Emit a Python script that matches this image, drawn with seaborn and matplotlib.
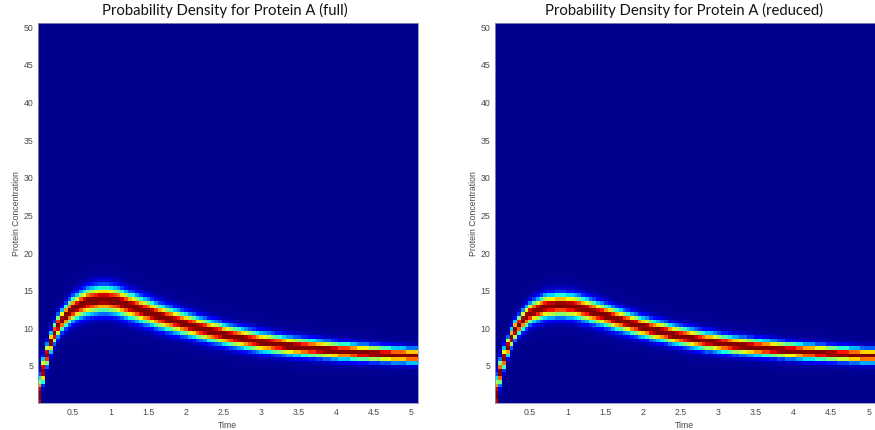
import numpy as np
import pandas as pd
import matplotlib
matplotlib.use("Agg")
import matplotlib.pyplot as plt
import seaborn as sns

titles = ["Probability Density for Protein A (full)", "Probability Density for Protein A (reduced)"]
x_label = "Time"
y_label = "Protein Concentration"
x_ticks = [0.5, 1, 1.5, 2, 2.5, 3, 3.5, 4, 4.5, 5]
x_tick_labels = ["0.5", "1", "1.5", "2", "2.5", "3", "3.5", "4", "4.5", "5"]
y_ticks = [5, 10, 15, 20, 25, 30, 35, 40, 45, 50]

# Ridge centre of the density, one reading per time column (0.05 to 5.05)
ridge_full = [1.0, 4.2, 6.3, 8.0, 9.2, 10.2, 10.9, 11.5, 12.0, 12.4,
              12.7, 13.0, 13.2, 13.4, 13.5, 13.6, 13.7, 13.7, 13.7, 13.6,
              13.5, 13.4, 13.2, 13.0, 12.8, 12.7, 12.5, 12.3, 12.1, 12.0,
              11.8, 11.6, 11.4, 11.3, 11.1, 11.0, 10.8, 10.7, 10.5, 10.4,
              10.2, 10.1, 9.9, 9.8, 9.7, 9.5, 9.4, 9.3, 9.2, 9.0,
              8.9, 8.8, 8.7, 8.6, 8.5, 8.4, 8.3, 8.2, 8.1, 8.0,
              7.95, 7.9, 7.8, 7.7, 7.7, 7.6, 7.5, 7.5, 7.4, 7.4,
              7.3, 7.3, 7.2, 7.2, 7.1, 7.1, 7.0, 7.0, 6.9, 6.9,
              6.8, 6.8, 6.8, 6.7, 6.7, 6.6, 6.6, 6.6, 6.5, 6.5,
              6.5, 6.4, 6.4, 6.4, 6.3, 6.3, 6.3, 6.3, 6.2, 6.2, 6.2]
ridge_reduced = [1.0, 4.0, 5.9, 7.4, 8.6, 9.6, 10.3, 10.9, 11.4, 11.8,
                 12.1, 12.3, 12.5, 12.7, 12.8, 12.8, 12.9, 12.9, 12.9, 12.8,
                 12.8, 12.7, 12.6, 12.4, 12.3, 12.1, 12.0, 11.8, 11.7, 11.5,
                 11.4, 11.2, 11.0, 10.9, 10.7, 10.6, 10.4, 10.3, 10.1, 10.0,
                 9.9, 9.7, 9.6, 9.5, 9.4, 9.3, 9.1, 9.0, 8.9, 8.8,
                 8.7, 8.6, 8.5, 8.4, 8.3, 8.2, 8.1, 8.1, 8.0, 7.9,
                 7.8, 7.8, 7.7, 7.6, 7.6, 7.5, 7.5, 7.4, 7.4, 7.3,
                 7.3, 7.2, 7.2, 7.1, 7.1, 7.0, 7.0, 6.9, 6.9, 6.9,
                 6.8, 6.8, 6.7, 6.7, 6.7, 6.6, 6.6, 6.6, 6.5, 6.5,
                 6.5, 6.4, 6.4, 6.4, 6.3, 6.3, 6.3, 6.2, 6.2, 6.2, 6.2]
# Band half-width of the density, one reading per time column
spread_full = [1.5, 1.0, 0.85, 0.8, 0.8, 0.85, 0.85, 0.9, 0.95, 1.0,
               1.0, 1.05, 1.05, 1.1, 1.1, 1.1, 1.1, 1.1, 1.1, 1.1,
               1.1, 1.1, 1.08, 1.08, 1.06, 1.06, 1.05, 1.04, 1.03, 1.02,
               1.0, 1.0, 0.98, 0.97, 0.96, 0.95, 0.94, 0.93, 0.92, 0.9,
               0.9, 0.89, 0.88, 0.87, 0.86, 0.86, 0.85, 0.85, 0.84, 0.83,
               0.82, 0.82, 0.81, 0.81, 0.8, 0.8, 0.79, 0.79, 0.78, 0.78,
               0.78, 0.77, 0.77, 0.76, 0.76, 0.75, 0.75, 0.74, 0.74, 0.73,
               0.73, 0.72, 0.72, 0.71, 0.71, 0.7, 0.7, 0.69, 0.69, 0.68,
               0.68, 0.68, 0.67, 0.67, 0.66, 0.66, 0.65, 0.65, 0.64, 0.64,
               0.63, 0.63, 0.62, 0.62, 0.62, 0.61, 0.61, 0.6, 0.6, 0.6, 0.6]
spread_reduced = [1.5, 1.0, 0.85, 0.75, 0.75, 0.75, 0.75, 0.8, 0.85, 0.85,
                  0.88, 0.9, 0.92, 0.95, 0.95, 0.95, 0.95, 0.95, 0.95, 0.95,
                  0.95, 0.95, 0.95, 0.95, 0.94, 0.94, 0.93, 0.92, 0.91, 0.9,
                  0.89, 0.88, 0.87, 0.86, 0.85, 0.84, 0.83, 0.82, 0.81, 0.8,
                  0.8, 0.8, 0.79, 0.79, 0.78, 0.78, 0.77, 0.77, 0.76, 0.76,
                  0.76, 0.75, 0.75, 0.75, 0.74, 0.74, 0.74, 0.73, 0.73, 0.73,
                  0.72, 0.72, 0.71, 0.71, 0.7, 0.7, 0.7, 0.69, 0.69, 0.68,
                  0.68, 0.68, 0.67, 0.67, 0.66, 0.66, 0.65, 0.65, 0.65, 0.64,
                  0.64, 0.64, 0.63, 0.63, 0.63, 0.62, 0.62, 0.62, 0.61, 0.61,
                  0.61, 0.6, 0.6, 0.6, 0.6, 0.59, 0.59, 0.59, 0.58, 0.58, 0.58]

row_values = np.arange(101) * 0.5 + 0.25
col_values = np.arange(101) * 0.05 + 0.05


def density(ridge, spread):
    ridge = np.asarray(ridge)[None, :]
    spread = np.asarray(spread)[None, :]
    grid = np.exp(-0.5 * ((row_values[:, None] - ridge) / spread) ** 2)
    return pd.DataFrame(grid, index=row_values, columns=col_values)


panels = [
    (density(ridge_full, spread_full), titles[0], [37.5, 417.5], 0.492),
    (density(ridge_reduced, spread_reduced), titles[1], [494.5, 875.0], 0.498),
]

W, H = 875, 431
fig = plt.figure(figsize=(W / 100, H / 100), dpi=100, facecolor="white")
grey = "#4a4a4a"
for frame, title, (left, right), title_x in panels:
    ax = fig.add_axes([left / W, 1 - 403.5 / H, (right - left) / W, (403.5 - 23.5) / H])
    sns.heatmap(frame, ax=ax, cmap="jet", vmin=-0.015, vmax=0.95, cbar=False,
                xticklabels=False, yticklabels=False)
    ax.invert_yaxis()
    ax.set_ylim(0, 101)
    ax.set_xticks([(t - 0.03) / 0.05 for t in x_ticks])
    ax.set_xticklabels(x_tick_labels, rotation=0)
    ax.set_yticks([v * 2 for v in y_ticks])
    ax.set_yticklabels([str(v) for v in y_ticks], rotation=0)
    ax.tick_params(length=0, labelsize=6.3, labelcolor=grey, pad=3)
    for lab in ax.get_xticklabels() + ax.get_yticklabels():
        lab.set_fontfamily("Liberation Sans")
    ax.set_xlabel(x_label, fontsize=6.3, color=grey, family="Liberation Sans", labelpad=3)
    ax.set_ylabel(y_label, fontsize=6.3, color=grey, family="Liberation Sans", labelpad=1.5)
    ax.set_title(title, fontsize=10.7, color="#111111", family="Lato", pad=6, x=title_x)
    for s in ax.spines.values():
        s.set_visible(True)
        s.set_color("#8a94b8")
        s.set_linewidth(0.6)

fig.savefig("out.png", dpi=100)
